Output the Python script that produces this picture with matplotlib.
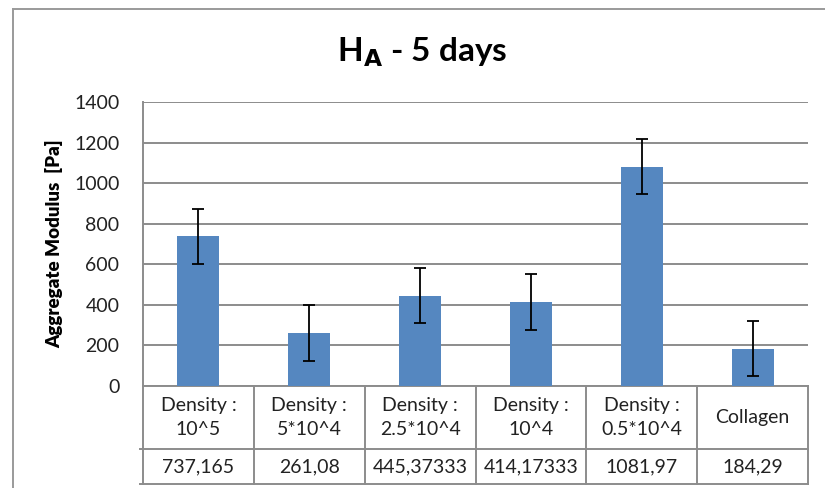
import matplotlib.pyplot as plt
from matplotlib.lines import Line2D
import matplotlib.transforms as mtransforms

# data
categories = ['Density :\n10^5', 'Density :\n5*10^4', 'Density :\n2.5*10^4',
              'Density :\n10^4', 'Density :\n0.5*10^4', 'Collagen']
values = [737.165, 261.08, 445.37333, 414.17333, 1081.97, 184.29]
value_labels = ['737,165', '261,08', '445,37333', '414,17333', '1081,97', '184,29']
errors = [136.6, 136.6, 136.6, 136.6, 136.6, 136.6]
yticks = [0, 200, 400, 600, 800, 1000, 1200, 1400]

bar_color = '#5587c0'
grid_color = '#8c8c8c'
font = 'Lato'

fig = plt.figure(figsize=(8.25, 4.88), dpi=100)
W, H = 825, 488
ax = fig.add_axes([143 / W, 1 - 386 / H, (808 - 143) / W, (386 - 102) / H])

x = list(range(len(values)))
ax.bar(x, values, width=0.38, color=bar_color, zorder=3)
ax.errorbar(x, values, yerr=errors, fmt='none', ecolor='black', elinewidth=1.3,
            capsize=4.5, capthick=1.3, zorder=4)

ax.set_xlim(-0.5, len(values) - 0.5)
ax.set_ylim(0, 1400)
ax.set_yticks(yticks)
ax.set_yticklabels([str(t) for t in yticks], fontsize=14, fontname=font, color='#222222')
ax.tick_params(axis='y', length=0, pad=17)
ax.set_xticks([])
ax.yaxis.grid(True, color=grid_color, linewidth=1.4, zorder=0)
for s in ['top', 'right', 'bottom']:
    ax.spines[s].set_visible(False)
ax.spines['left'].set_color(grid_color)
ax.spines['left'].set_linewidth(1.4)

ax.set_ylabel('Aggregate Modulus  [Pa]', fontsize=13.5, fontweight='heavy', fontname=font)
ax.yaxis.set_label_coords(-0.12, 0.5)

fig.text(422 / W, 1 - 52 / H, r'H$_\mathbf{A}$ - 5 days', ha='center', va='center',
         fontsize=24, fontweight='bold', fontname=font)

# data table under the axis
trans = mtransforms.blended_transform_factory(ax.transData, ax.transAxes)
h_ax = 386 - 102
r1 = -(449 - 386) / h_ax
r2 = -(484 - 386) / h_ax
lw = 1.4
ext = -0.53
for i, (cat, lab) in enumerate(zip(categories, value_labels)):
    ax.text(i, r1 / 2, cat, transform=trans, ha='center', va='center', fontsize=14,
            fontname=font, linespacing=1.45, color='#222222')
    ax.text(i, (r1 + r2) / 2, lab, transform=trans, ha='center', va='center', fontsize=14,
            fontname=font, color='#222222')
for b in [i - 0.5 for i in range(len(values) + 1)]:
    ax.add_line(Line2D([b, b], [0, r2], transform=trans, color=grid_color, lw=lw, clip_on=False))
ax.add_line(Line2D([-0.5, 5.5], [0, 0], transform=trans, color=grid_color, lw=lw, clip_on=False))
ax.add_line(Line2D([ext, 5.5], [r1, r1], transform=trans, color=grid_color, lw=lw, clip_on=False))
ax.add_line(Line2D([ext, 5.5], [r2, r2], transform=trans, color=grid_color, lw=lw, clip_on=False))

# chart area border (cropped on the right and bottom)
fig.add_artist(Line2D([13 / W, 13 / W], [0, 1 - 9 / H], color='#9a9a9a', lw=1.4))
fig.add_artist(Line2D([13 / W, 1], [1 - 9 / H, 1 - 9 / H], color='#9a9a9a', lw=1.4))

fig.savefig('out.png', dpi=100, facecolor='white')
